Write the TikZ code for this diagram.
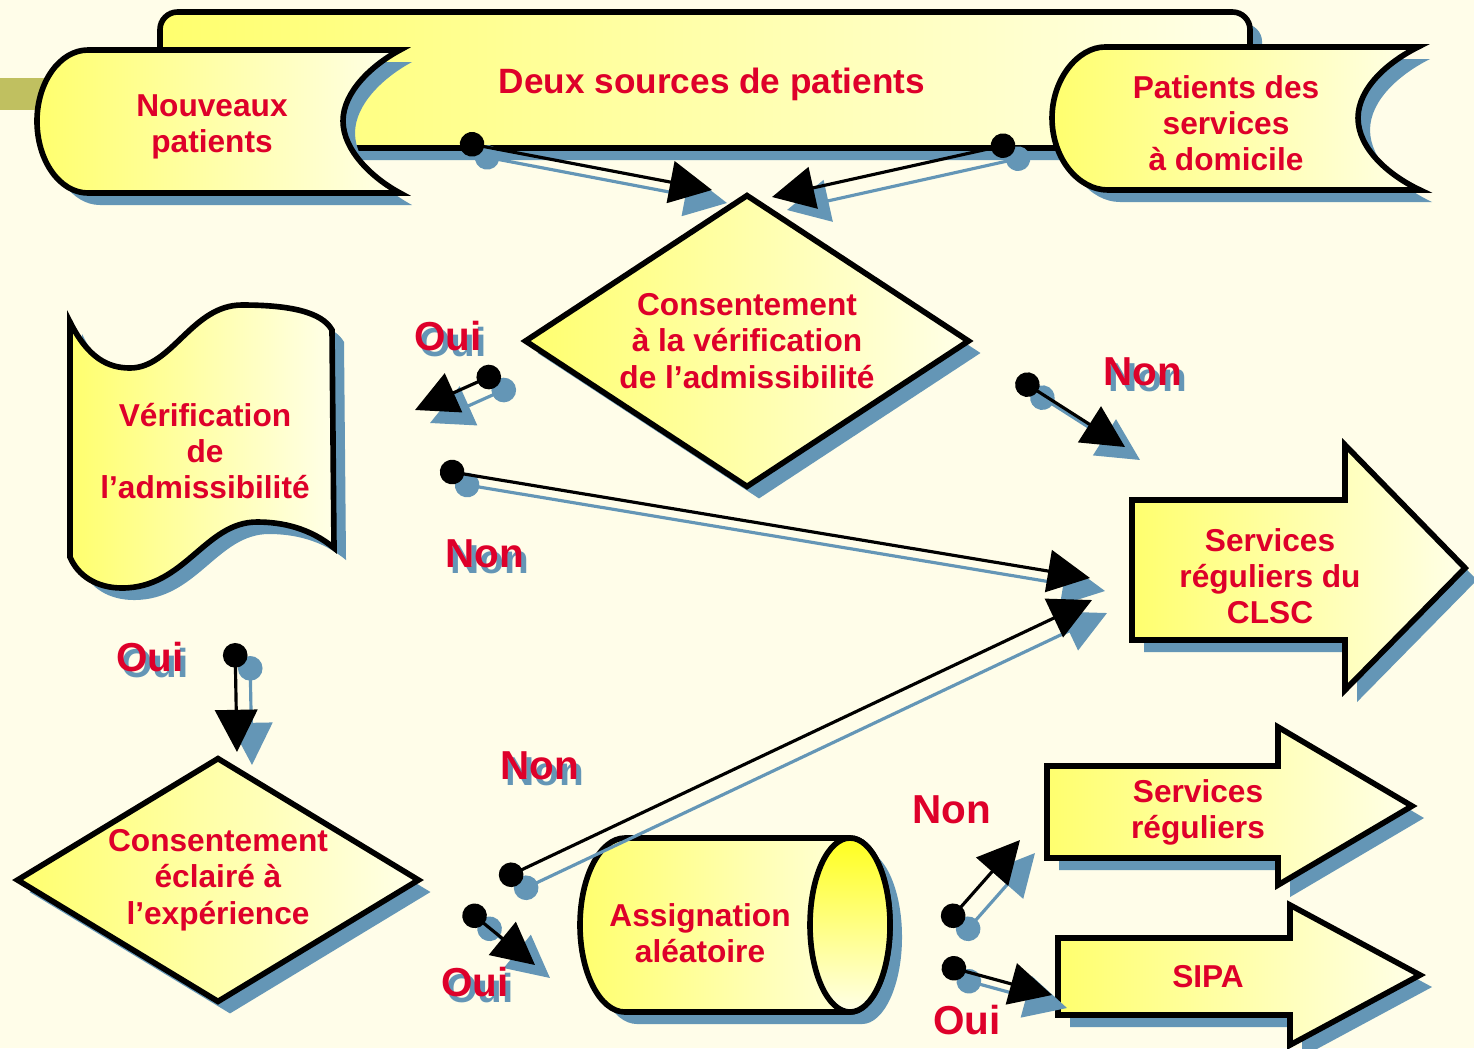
\documentclass[tikz,border=0pt]{standalone}
\usepackage{fontspec}
\setmainfont{Liberation Sans}
\usetikzlibrary{shapes.geometric, arrows.meta, shadows}
\definecolor{cream}{RGB}{255,253,233}
\definecolor{sunyellow}{RGB}{255,255,110}
\definecolor{paleyellow}{RGB}{255,255,232}
\definecolor{faceyellow}{RGB}{255,255,30}
\definecolor{textred}{RGB}{222,0,42}
\definecolor{shadowblue}{RGB}{100,150,182}
\definecolor{olivestrip}{RGB}{192,192,96}
\newcommand{\boxfont}{\bfseries\fontsize{9}{10.3}\selectfont}
\newcommand{\titlefont}{\bfseries\fontsize{10}{12}\selectfont}
\newcommand{\answerfont}{\bfseries\fontsize{11.5}{13}\selectfont}

\begin{document}
\begin{tikzpicture}[
    x=0.01cm, y=-0.01cm,
    bluedrop/.style={drop shadow={shadow xshift=1.2mm, shadow yshift=-1.2mm, fill=shadowblue, opacity=1}},
    block/.style={draw=black, line width=1.6pt, left color=sunyellow, right color=paleyellow, bluedrop},
    txt/.style={font=\boxfont, text=textred, align=center},
    decision/.style={diamond, block, txt, inner sep=0pt},
    answer/.style={font=\answerfont, text=textred},
    answershade/.style={answer, text=shadowblue},
    link/.style={{Circle[length=7pt]}-{Triangle[length=12pt,width=12pt]}, line width=0.9pt, draw=black},
    linkshade/.style={link, draw=shadowblue}
]
    \fill[cream] (0,0) rectangle (1474,1048);
    \useasboundingbox (0,0) rectangle (1474,1048);

    % Sources
    \draw[block, rounded corners=5pt] (160,12) rectangle (1250,148);
    \node[txt, font=\titlefont] (sources) at (712,84) {Deux sources de patients};
    \fill[olivestrip] (0,78) rectangle (45,110);

    \draw[block] (88,50) -- (400,50) .. controls (372,65) and (343,92) .. (343,121)
        .. controls (343,150) and (372,178) .. (400,193) -- (88,193)
        .. controls (60,193) and (37,161) .. (37,121) .. controls (37,82) and (60,50) .. (88,50) -- cycle;
    \node[txt] (nouveaux) at (212,127) {Nouveaux\\patients};

    \draw[block] (1105,47) -- (1418,47) .. controls (1388,62) and (1358,88) .. (1358,118)
        .. controls (1358,148) and (1388,175) .. (1420,190) -- (1108,190)
        .. controls (1078,190) and (1052,158) .. (1052,118) .. controls (1052,79) and (1078,47) .. (1105,47) -- cycle;
    \node[txt] (domicile) at (1226,123) {Patients des\\services\\à domicile};

    % Verification
    \draw[block] (70,322) .. controls (88,358) and (108,368) .. (130,368)
        .. controls (172,368) and (192,305) .. (242,305) .. controls (290,305) and (322,312) .. (332,330)
        -- (334,548) .. controls (310,528) and (282,522) .. (257,522)
        .. controls (205,522) and (185,588) .. (122,588) .. controls (97,588) and (78,576) .. (70,557) -- cycle;
    \node[txt] (verif) at (205,451) {Vérification\\de\\l'admissibilité};

    \node[decision, aspect=1.52, minimum width=4.45cm, minimum height=2.93cm] (consent1) at (747,341) {Consentement\\à la vérification\\de l'admissibilité};
    \node[decision, aspect=1.64, minimum width=4.03cm, minimum height=2.45cm] (consent2) at (218,880) {Consentement\\éclairé à\\l'expérience};

    % Services
    \draw[block] (1132,500) -- (1345,500) -- (1345,445) -- (1465,568) -- (1345,690) -- (1345,640) -- (1132,640) -- cycle;
    \node[txt] (clsc) at (1270,576) {Services\\réguliers du\\CLSC};

    \draw[block] (1047,766) -- (1278,766) -- (1278,727) -- (1412,806) -- (1278,885) -- (1278,858) -- (1047,858) -- cycle;
    \node[txt] (reguliers) at (1198,812) {Services\\réguliers};

    \draw[block] (1058,938) -- (1290,938) -- (1290,905) -- (1420,975) -- (1290,1045) -- (1290,1015) -- (1058,1015) -- cycle;
    \node[txt] (sipa) at (1208,977) {SIPA};

    % Random assignment
    \draw[block] (625,838) -- (850,838) .. controls (872,838) and (890,877) .. (890,925)
        .. controls (890,973) and (872,1012) .. (850,1012) -- (625,1012)
        .. controls (600,1012) and (580,973) .. (580,925) .. controls (580,877) and (600,838) .. (625,838) -- cycle;
    \draw[line width=1.6pt, top color=faceyellow, bottom color=paleyellow] (850,925) ellipse [x radius=40, y radius=87];
    \node[txt] (assign) at (700,933) {Assignation\\aléatoire};

    % Connectors
    \coordinate (newout) at (460,142);    \coordinate (newin) at (712,190);
    \coordinate (homeout) at (1015,143);  \coordinate (homein) at (772,197);
    \coordinate (c1yes) at (500,372);     \coordinate (c1yesend) at (415,410);
    \coordinate (c1no) at (1017,378);     \coordinate (c1noend) at (1125,447);
    \coordinate (verno) at (440,470);     \coordinate (vernoend) at (1090,578);
    \coordinate (veryes) at (235,643);    \coordinate (veryesend) at (237,752);
    \coordinate (c2no) at (500,880);      \coordinate (c2noend) at (1092,600);
    \coordinate (c2yes) at (465,908);     \coordinate (c2yesend) at (535,965);
    \coordinate (randno) at (945,925);    \coordinate (randnoend) at (1020,840);
    \coordinate (randyes) at (942,965);   \coordinate (randyesend) at (1052,995);

    \foreach \a/\b in {newout/newin, homeout/homein, c1yes/c1yesend, c1no/c1noend, verno/vernoend,
                       veryes/veryesend, c2no/c2noend, c2yes/c2yesend, randno/randnoend, randyes/randyesend}
        \draw[linkshade] ([shift={(15,13)}]\a) -- ([shift={(15,13)}]\b);
    \foreach \a/\b in {newout/newin, homeout/homein, c1yes/c1yesend, c1no/c1noend, verno/vernoend,
                       veryes/veryesend, c2no/c2noend, c2yes/c2yesend, randno/randnoend, randyes/randyesend}
        \draw[link] (\a) -- (\b);

    % Answers
    \foreach \n/\x/\y/\t in {oui1/448/336/Oui, non1/1143/372/Non, non2/485/554/Non,
                             oui2/150/657/Oui, non3/540/766/Non, oui3/475/982/Oui} {
        \node[answershade] (\n s) at (\x+5,\y+6) {\t};
        \node[answer] (\n) at (\x,\y) {\t};
    }
    \node[answer] (non4) at (952,810) {Non};
    \node[answer] (oui4) at (967,1020) {Oui};

\end{tikzpicture}
\end{document}
